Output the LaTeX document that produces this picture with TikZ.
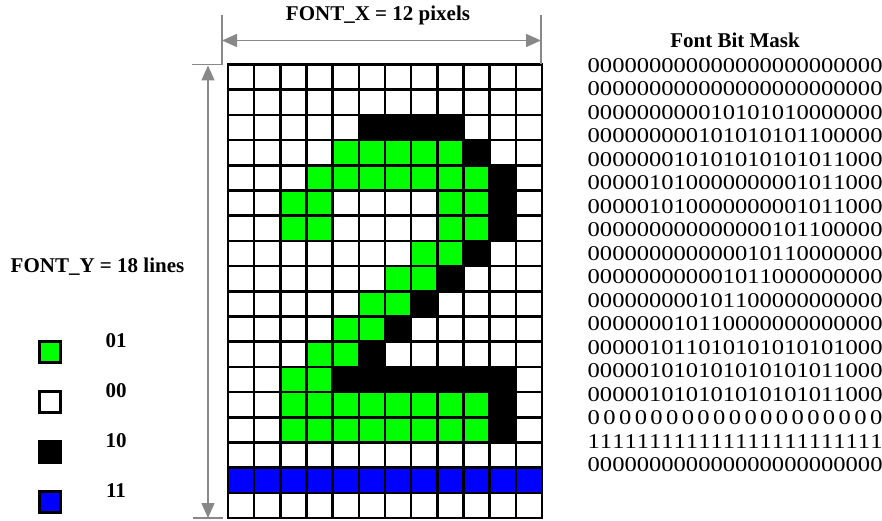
\documentclass[tikz,border=0pt]{standalone}
\usepackage{fontspec}
\setmainfont{Liberation Serif}
\newfontfamily\maskfont[FakeStretch=1.17, Kerning=Off]{Liberation Serif}
\usepackage{xcolor}
\usetikzlibrary{arrows.meta, positioning}

\definecolor{pxW}{RGB}{255,255,255}
\definecolor{pxG}{RGB}{0,255,0}
\definecolor{pxK}{RGB}{0,0,0}
\definecolor{pxB}{RGB}{0,0,255}
\definecolor{dimgray}{RGB}{136,136,136}
\newcommand{\zsp}{\hspace{3.4pt}}
\newcommand{\quadone}{1111}

\begin{document}
\begin{tikzpicture}[
    x=1pt, y=-1pt,
    every node/.style={color=black, font=\fontsize{21}{24}\selectfont},
    pix/.style={draw=black, rectangle, line width=2.6pt, inner sep=0pt,
                outer sep=0pt, minimum width=26.17pt, minimum height=25.2pt},
    legend/.style={draw=black, rectangle, line width=2.2pt, inner sep=0pt,
                   minimum size=21pt},
    annot/.style={font=\fontsize{21}{24}\selectfont\bfseries, anchor=base},
    bits/.style={font=\maskfont\fontsize{21}{23.5}\selectfont, anchor=base west,
                 inner sep=0pt},
    ext/.style={draw=dimgray, line width=1.5pt},
    dim/.style={ext, {Triangle[length=15pt, width=13pt]}-{Triangle[length=15pt, width=13pt]}}
]
\useasboundingbox (0,0) rectangle (882,521);

% =========================================================
% MIDDLE: 12 x 18 pixel grid of the glyph
% =========================================================
\foreach \line [count=\r] in {
    {W,W,W,W,W,W,W,W,W,W,W,W},
    {W,W,W,W,W,W,W,W,W,W,W,W},
    {W,W,W,W,W,K,K,K,K,W,W,W},
    {W,W,W,W,G,G,G,G,G,K,W,W},
    {W,W,W,G,G,G,G,G,G,G,K,W},
    {W,W,G,G,W,W,W,W,G,G,K,W},
    {W,W,G,G,W,W,W,W,G,G,K,W},
    {W,W,W,W,W,W,W,G,G,K,W,W},
    {W,W,W,W,W,W,G,G,K,W,W,W},
    {W,W,W,W,W,G,G,K,W,W,W,W},
    {W,W,W,W,G,G,K,W,W,W,W,W},
    {W,W,W,G,G,K,W,W,W,W,W,W},
    {W,W,G,G,K,K,K,K,K,K,K,W},
    {W,W,G,G,G,G,G,G,G,G,K,W},
    {W,W,G,G,G,G,G,G,G,G,K,W},
    {W,W,W,W,W,W,W,W,W,W,W,W},
    {B,B,B,B,B,B,B,B,B,B,B,B},
    {W,W,W,W,W,W,W,W,W,W,W,W}}
  \foreach \c [count=\k] in \line
    \node[pix, fill=px\c] (p-\r-\k) at ({228+(\k-0.5)*26.17}, {64.5+(\r-0.5)*25.2}) {};

% =========================================================
% DIMENSIONS: FONT_X across the top, FONT_Y down the left
% =========================================================
\coordinate (xl0) at (222,15);
\coordinate (xl1) at (222,64.5);
\coordinate (xr0) at (541,15);
\coordinate (xr1) at (541,64.5);
\coordinate (yt0) at (192,64.5);
\coordinate (yb0) at (193,518);
\coordinate (yb1) at (223,518);
\coordinate (xa) at (222,40.5);
\coordinate (xb) at (541,40.5);
\coordinate (ya) at (208,65.5);
\coordinate (yb) at (208,518);

% extension lines
\draw[ext] (xl0) -- (xl1) -- (yt0);
\draw[ext] (xr0) -- (xr1);
\draw[ext] (yb0) -- (yb1);

% dimension arrows
\draw[dim] (xa) -- (xb);
\draw[dim] (ya) -- (yb);

\node[annot] (fontx) at (378,21) {FONT\_X = 12 pixels};
\node[annot] (fonty) at (97.5,272.5) {FONT\_Y = 18 lines};

% =========================================================
% LEFT: colour legend
% =========================================================
\node[legend, fill=pxG] (lg01) at (50,352) {};
\node[legend, fill=pxW, below=26.8pt of lg01] (lg00) {};
\node[legend, fill=pxK, below=26.8pt of lg00] (lg10) {};
\node[legend, fill=pxB, below=26.8pt of lg10] (lg11) {};

\node[annot] (t01) at (116,347) {01};
\node[annot] (t00) at (116,397) {00};
\node[annot] (t10) at (116,447) {10};
\node[annot] (t11) at (116,497) {11};

% =========================================================
% RIGHT: bit mask, two bits per pixel
% =========================================================
\node[annot] (hdr) at (735,48) {Font Bit Mask};

\foreach \row [count=\r] in {
    000000000000000000000000,
    000000000000000000000000,
    000000000010101010000000,
    000000000101010101100000,
    000000010101010101011000,
    000001010000000001011000,
    000001010000000001011000,
    000000000000000101100000,
    000000000000010110000000,
    000000000001011000000000,
    000000000101100000000000,
    000000010110000000000000,
    000001011010101010101000,
    000001010101010101011000,
    000001010101010101011000,
    0\zsp0\zsp0\zsp0\zsp0\zsp0\zsp0\zsp0\zsp0\zsp0\zsp0\zsp0\zsp0\zsp0\zsp0\zsp0\zsp0\zsp0\zsp0,
    \quadone\quadone\quadone\quadone\quadone\quadone,
    000000000000000000000000}
  \node[bits] (m\r) at (587.5, {72.1+(\r-1)*23.5}) {\row};

\end{tikzpicture}
\end{document}
